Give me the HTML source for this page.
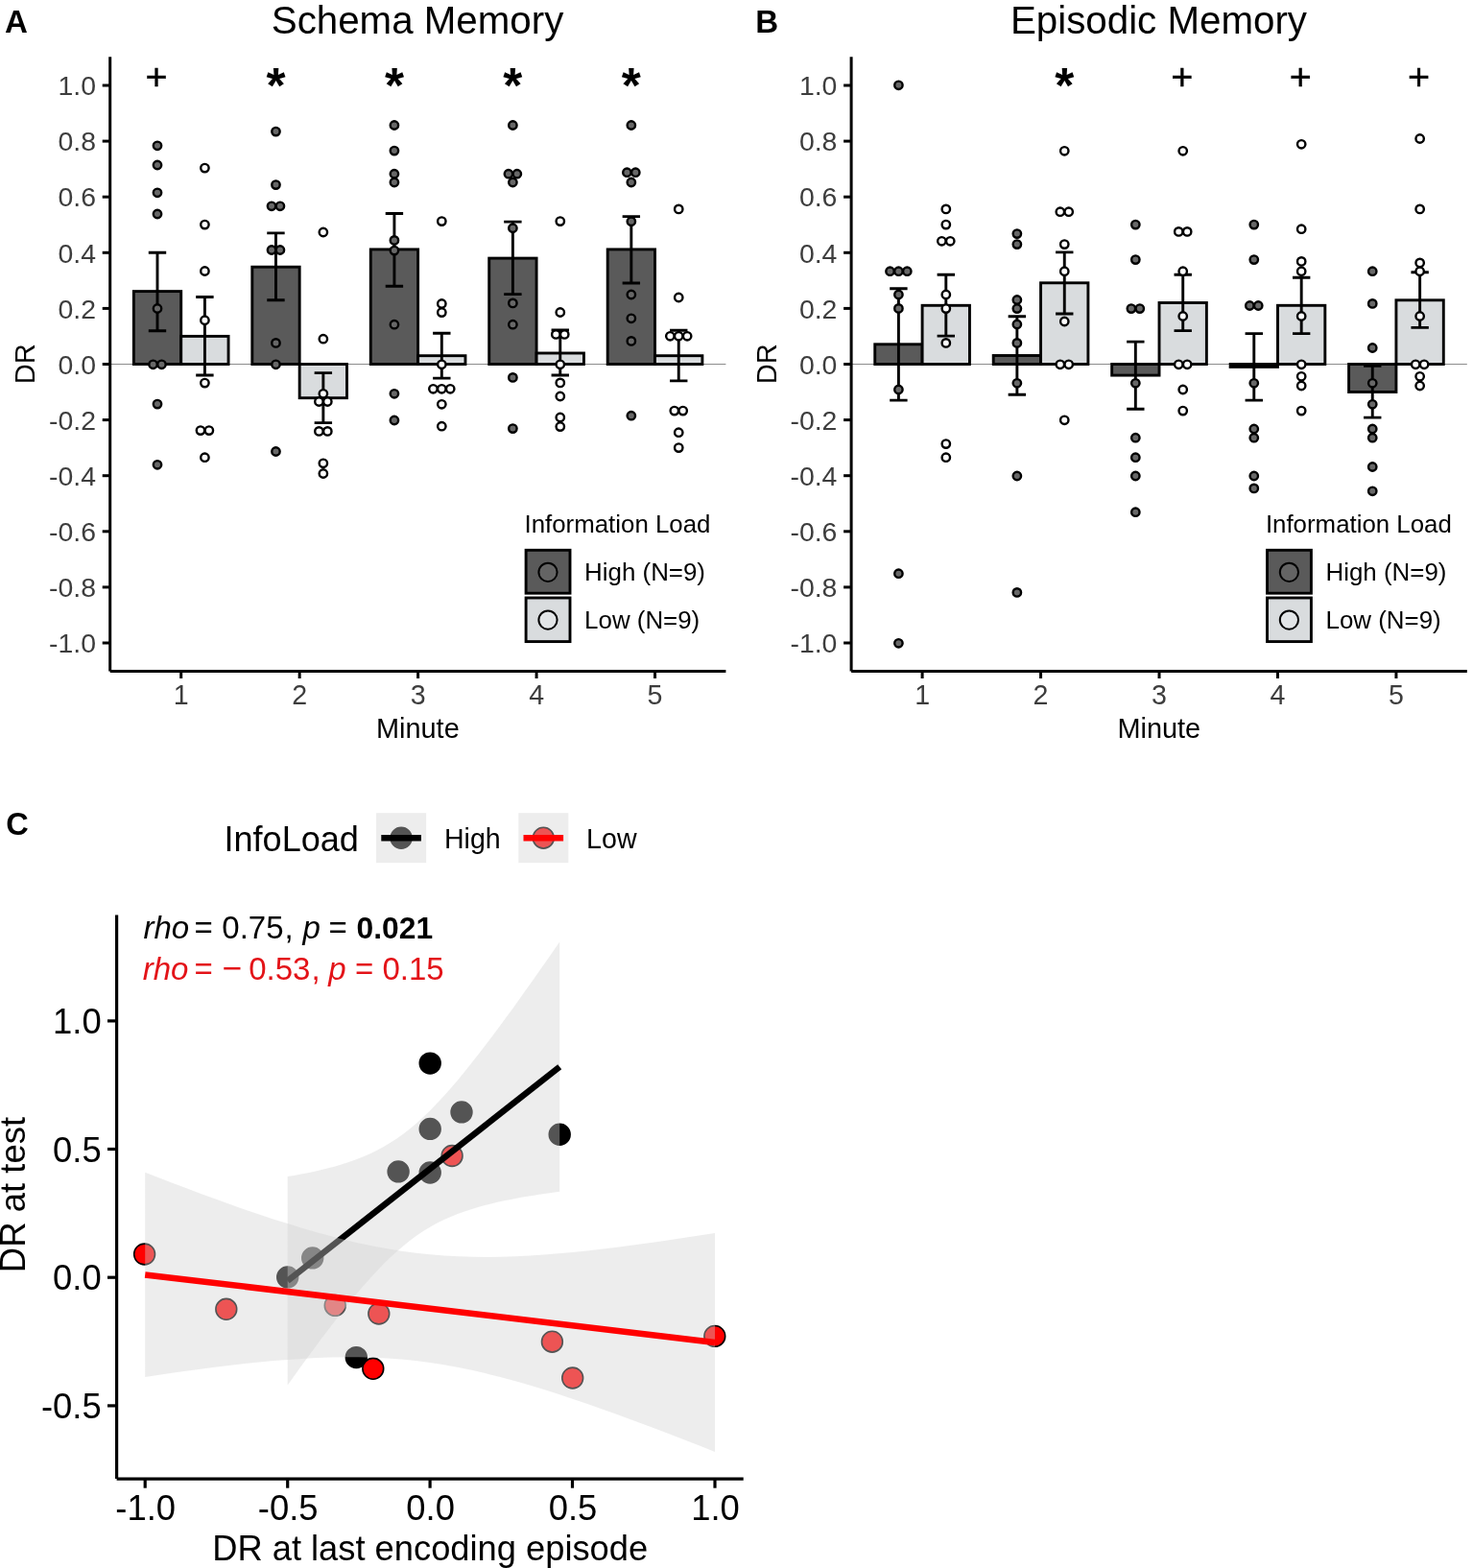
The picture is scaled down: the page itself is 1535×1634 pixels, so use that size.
<!DOCTYPE html>
<html lang="en"><head><meta charset="utf-8"><title>Schema Memory and Episodic Memory</title>
<style>html,body{margin:0;padding:0;background:#fff}body{width:1535px;height:1634px;overflow:hidden}svg{display:block}text{font-family:"Liberation Sans", sans-serif}</style>
</head><body>
<svg width="1535" height="1634" viewBox="0 0 1535 1634" role="img" aria-label="Figure with panels A, B and C">
<rect width="1535" height="1634" fill="#fff"/>
<g id="panelA">
<line x1="114.7" y1="379.5" x2="756.4" y2="379.5" stroke="#8c8c8c" stroke-width="1"/>
<rect x="139.35" y="303.60" width="49.35" height="75.90" fill="#5a5a5a" stroke="#000" stroke-width="2.9"/>
<rect x="188.70" y="350.40" width="49.35" height="29.10" fill="#d9dcde" stroke="#000" stroke-width="2.9"/>
<rect x="262.81" y="278.20" width="49.35" height="101.30" fill="#5a5a5a" stroke="#000" stroke-width="2.9"/>
<rect x="312.16" y="379.50" width="49.35" height="35.20" fill="#d9dcde" stroke="#000" stroke-width="2.9"/>
<rect x="386.27" y="259.90" width="49.35" height="119.60" fill="#5a5a5a" stroke="#000" stroke-width="2.9"/>
<rect x="435.62" y="370.70" width="49.35" height="8.80" fill="#d9dcde" stroke="#000" stroke-width="2.9"/>
<rect x="509.73" y="269.10" width="49.35" height="110.40" fill="#5a5a5a" stroke="#000" stroke-width="2.9"/>
<rect x="559.08" y="368.00" width="49.35" height="11.50" fill="#d9dcde" stroke="#000" stroke-width="2.9"/>
<rect x="633.19" y="259.90" width="49.35" height="119.60" fill="#5a5a5a" stroke="#000" stroke-width="2.9"/>
<rect x="682.54" y="370.70" width="49.35" height="8.80" fill="#d9dcde" stroke="#000" stroke-width="2.9"/>
<path d="M154.80 263.30H173.20M154.80 344.70H173.20M164.00 263.30V344.70" fill="none" stroke="#000" stroke-width="2.9"/>
<path d="M204.20 309.50H222.60M204.20 391.00H222.60M213.40 309.50V391.00" fill="none" stroke="#000" stroke-width="2.9"/>
<path d="M278.26 242.90H296.66M278.26 312.80H296.66M287.46 242.90V312.80" fill="none" stroke="#000" stroke-width="2.9"/>
<path d="M327.66 388.60H346.06M327.66 440.60H346.06M336.86 388.60V440.60" fill="none" stroke="#000" stroke-width="2.9"/>
<path d="M401.72 222.50H420.12M401.72 298.30H420.12M410.92 222.50V298.30" fill="none" stroke="#000" stroke-width="2.9"/>
<path d="M451.12 347.30H469.52M451.12 394.10H469.52M460.32 347.30V394.10" fill="none" stroke="#000" stroke-width="2.9"/>
<path d="M525.18 231.10H543.58M525.18 306.60H543.58M534.38 231.10V306.60" fill="none" stroke="#000" stroke-width="2.9"/>
<path d="M574.58 343.90H592.98M574.58 391.00H592.98M583.78 343.90V391.00" fill="none" stroke="#000" stroke-width="2.9"/>
<path d="M648.64 225.60H667.04M648.64 295.00H667.04M657.84 225.60V295.00" fill="none" stroke="#000" stroke-width="2.9"/>
<path d="M698.04 344.20H716.44M698.04 396.90H716.44M707.24 344.20V396.90" fill="none" stroke="#000" stroke-width="2.9"/>
<circle cx="164.00" cy="151.80" r="4.2" fill="#686868" stroke="#000" stroke-width="2.4"/>
<circle cx="164.00" cy="172.00" r="4.2" fill="#686868" stroke="#000" stroke-width="2.4"/>
<circle cx="164.00" cy="200.80" r="4.2" fill="#686868" stroke="#000" stroke-width="2.4"/>
<circle cx="164.00" cy="223.00" r="4.2" fill="#686868" stroke="#000" stroke-width="2.4"/>
<circle cx="164.00" cy="321.50" r="4.2" fill="#686868" stroke="#000" stroke-width="2.4"/>
<circle cx="159.55" cy="379.80" r="4.2" fill="#686868" stroke="#000" stroke-width="2.4"/>
<circle cx="168.45" cy="379.80" r="4.2" fill="#686868" stroke="#000" stroke-width="2.4"/>
<circle cx="164.00" cy="421.10" r="4.2" fill="#686868" stroke="#000" stroke-width="2.4"/>
<circle cx="164.00" cy="484.30" r="4.2" fill="#686868" stroke="#000" stroke-width="2.4"/>
<circle cx="213.40" cy="175.10" r="4.2" fill="#fff" stroke="#000" stroke-width="2.4"/>
<circle cx="213.40" cy="234.10" r="4.2" fill="#fff" stroke="#000" stroke-width="2.4"/>
<circle cx="213.40" cy="282.50" r="4.2" fill="#fff" stroke="#000" stroke-width="2.4"/>
<circle cx="213.40" cy="333.70" r="4.2" fill="#fff" stroke="#000" stroke-width="2.4"/>
<circle cx="213.40" cy="399.10" r="4.2" fill="#fff" stroke="#000" stroke-width="2.4"/>
<circle cx="208.95" cy="448.60" r="4.2" fill="#fff" stroke="#000" stroke-width="2.4"/>
<circle cx="217.85" cy="448.60" r="4.2" fill="#fff" stroke="#000" stroke-width="2.4"/>
<circle cx="213.40" cy="476.70" r="4.2" fill="#fff" stroke="#000" stroke-width="2.4"/>
<circle cx="287.46" cy="137.10" r="4.2" fill="#686868" stroke="#000" stroke-width="2.4"/>
<circle cx="287.46" cy="192.60" r="4.2" fill="#686868" stroke="#000" stroke-width="2.4"/>
<circle cx="283.01" cy="214.80" r="4.2" fill="#686868" stroke="#000" stroke-width="2.4"/>
<circle cx="291.91" cy="214.80" r="4.2" fill="#686868" stroke="#000" stroke-width="2.4"/>
<circle cx="283.01" cy="260.50" r="4.2" fill="#686868" stroke="#000" stroke-width="2.4"/>
<circle cx="291.91" cy="260.50" r="4.2" fill="#686868" stroke="#000" stroke-width="2.4"/>
<circle cx="287.46" cy="357.40" r="4.2" fill="#686868" stroke="#000" stroke-width="2.4"/>
<circle cx="287.46" cy="379.80" r="4.2" fill="#686868" stroke="#000" stroke-width="2.4"/>
<circle cx="287.46" cy="470.50" r="4.2" fill="#686868" stroke="#000" stroke-width="2.4"/>
<circle cx="336.86" cy="242.00" r="4.2" fill="#fff" stroke="#000" stroke-width="2.4"/>
<circle cx="336.86" cy="353.20" r="4.2" fill="#fff" stroke="#000" stroke-width="2.4"/>
<circle cx="336.86" cy="410.30" r="4.2" fill="#fff" stroke="#000" stroke-width="2.4"/>
<circle cx="332.41" cy="418.50" r="4.2" fill="#fff" stroke="#000" stroke-width="2.4"/>
<circle cx="341.31" cy="418.50" r="4.2" fill="#fff" stroke="#000" stroke-width="2.4"/>
<circle cx="332.41" cy="449.40" r="4.2" fill="#fff" stroke="#000" stroke-width="2.4"/>
<circle cx="341.31" cy="449.40" r="4.2" fill="#fff" stroke="#000" stroke-width="2.4"/>
<circle cx="336.86" cy="482.80" r="4.2" fill="#fff" stroke="#000" stroke-width="2.4"/>
<circle cx="336.86" cy="493.50" r="4.2" fill="#fff" stroke="#000" stroke-width="2.4"/>
<circle cx="410.92" cy="130.50" r="4.2" fill="#686868" stroke="#000" stroke-width="2.4"/>
<circle cx="410.92" cy="157.10" r="4.2" fill="#686868" stroke="#000" stroke-width="2.4"/>
<circle cx="410.92" cy="181.20" r="4.2" fill="#686868" stroke="#000" stroke-width="2.4"/>
<circle cx="410.92" cy="190.00" r="4.2" fill="#686868" stroke="#000" stroke-width="2.4"/>
<circle cx="410.92" cy="250.40" r="4.2" fill="#686868" stroke="#000" stroke-width="2.4"/>
<circle cx="410.92" cy="261.10" r="4.2" fill="#686868" stroke="#000" stroke-width="2.4"/>
<circle cx="410.92" cy="338.20" r="4.2" fill="#686868" stroke="#000" stroke-width="2.4"/>
<circle cx="410.92" cy="410.30" r="4.2" fill="#686868" stroke="#000" stroke-width="2.4"/>
<circle cx="410.92" cy="438.00" r="4.2" fill="#686868" stroke="#000" stroke-width="2.4"/>
<circle cx="460.32" cy="230.60" r="4.2" fill="#fff" stroke="#000" stroke-width="2.4"/>
<circle cx="460.32" cy="316.50" r="4.2" fill="#fff" stroke="#000" stroke-width="2.4"/>
<circle cx="460.32" cy="325.60" r="4.2" fill="#fff" stroke="#000" stroke-width="2.4"/>
<circle cx="460.32" cy="379.80" r="4.2" fill="#fff" stroke="#000" stroke-width="2.4"/>
<circle cx="451.42" cy="405.30" r="4.2" fill="#fff" stroke="#000" stroke-width="2.4"/>
<circle cx="460.32" cy="405.30" r="4.2" fill="#fff" stroke="#000" stroke-width="2.4"/>
<circle cx="469.22" cy="405.30" r="4.2" fill="#fff" stroke="#000" stroke-width="2.4"/>
<circle cx="460.32" cy="421.30" r="4.2" fill="#fff" stroke="#000" stroke-width="2.4"/>
<circle cx="460.32" cy="444.20" r="4.2" fill="#fff" stroke="#000" stroke-width="2.4"/>
<circle cx="534.38" cy="130.50" r="4.2" fill="#686868" stroke="#000" stroke-width="2.4"/>
<circle cx="529.93" cy="181.20" r="4.2" fill="#686868" stroke="#000" stroke-width="2.4"/>
<circle cx="538.83" cy="181.20" r="4.2" fill="#686868" stroke="#000" stroke-width="2.4"/>
<circle cx="534.38" cy="190.00" r="4.2" fill="#686868" stroke="#000" stroke-width="2.4"/>
<circle cx="534.38" cy="237.70" r="4.2" fill="#686868" stroke="#000" stroke-width="2.4"/>
<circle cx="534.38" cy="315.90" r="4.2" fill="#686868" stroke="#000" stroke-width="2.4"/>
<circle cx="534.38" cy="338.20" r="4.2" fill="#686868" stroke="#000" stroke-width="2.4"/>
<circle cx="534.38" cy="393.40" r="4.2" fill="#686868" stroke="#000" stroke-width="2.4"/>
<circle cx="534.38" cy="446.60" r="4.2" fill="#686868" stroke="#000" stroke-width="2.4"/>
<circle cx="583.78" cy="230.60" r="4.2" fill="#fff" stroke="#000" stroke-width="2.4"/>
<circle cx="583.78" cy="325.50" r="4.2" fill="#fff" stroke="#000" stroke-width="2.4"/>
<circle cx="579.33" cy="348.40" r="4.2" fill="#fff" stroke="#000" stroke-width="2.4"/>
<circle cx="588.23" cy="348.40" r="4.2" fill="#fff" stroke="#000" stroke-width="2.4"/>
<circle cx="583.78" cy="379.80" r="4.2" fill="#fff" stroke="#000" stroke-width="2.4"/>
<circle cx="583.78" cy="398.90" r="4.2" fill="#fff" stroke="#000" stroke-width="2.4"/>
<circle cx="583.78" cy="413.00" r="4.2" fill="#fff" stroke="#000" stroke-width="2.4"/>
<circle cx="583.78" cy="435.00" r="4.2" fill="#fff" stroke="#000" stroke-width="2.4"/>
<circle cx="583.78" cy="444.60" r="4.2" fill="#fff" stroke="#000" stroke-width="2.4"/>
<circle cx="657.84" cy="130.50" r="4.2" fill="#686868" stroke="#000" stroke-width="2.4"/>
<circle cx="653.39" cy="179.70" r="4.2" fill="#686868" stroke="#000" stroke-width="2.4"/>
<circle cx="662.29" cy="179.70" r="4.2" fill="#686868" stroke="#000" stroke-width="2.4"/>
<circle cx="657.84" cy="190.00" r="4.2" fill="#686868" stroke="#000" stroke-width="2.4"/>
<circle cx="657.84" cy="230.80" r="4.2" fill="#686868" stroke="#000" stroke-width="2.4"/>
<circle cx="657.84" cy="307.00" r="4.2" fill="#686868" stroke="#000" stroke-width="2.4"/>
<circle cx="657.84" cy="331.80" r="4.2" fill="#686868" stroke="#000" stroke-width="2.4"/>
<circle cx="657.84" cy="355.40" r="4.2" fill="#686868" stroke="#000" stroke-width="2.4"/>
<circle cx="657.84" cy="433.20" r="4.2" fill="#686868" stroke="#000" stroke-width="2.4"/>
<circle cx="707.24" cy="217.90" r="4.2" fill="#fff" stroke="#000" stroke-width="2.4"/>
<circle cx="707.24" cy="310.00" r="4.2" fill="#fff" stroke="#000" stroke-width="2.4"/>
<circle cx="698.34" cy="350.30" r="4.2" fill="#fff" stroke="#000" stroke-width="2.4"/>
<circle cx="707.24" cy="350.30" r="4.2" fill="#fff" stroke="#000" stroke-width="2.4"/>
<circle cx="716.14" cy="350.30" r="4.2" fill="#fff" stroke="#000" stroke-width="2.4"/>
<circle cx="702.79" cy="428.10" r="4.2" fill="#fff" stroke="#000" stroke-width="2.4"/>
<circle cx="711.69" cy="428.10" r="4.2" fill="#fff" stroke="#000" stroke-width="2.4"/>
<circle cx="707.24" cy="450.70" r="4.2" fill="#fff" stroke="#000" stroke-width="2.4"/>
<circle cx="707.24" cy="466.60" r="4.2" fill="#fff" stroke="#000" stroke-width="2.4"/>
<line x1="114.70" y1="59.2" x2="114.70" y2="699.4" stroke="#000" stroke-width="3.0"/>
<line x1="114.70" y1="699.4" x2="756.40" y2="699.4" stroke="#000" stroke-width="3.0"/>
<line x1="106.70" y1="89.00" x2="114.70" y2="89.00" stroke="#000" stroke-width="3.0"/>
<text x="100.00" y="99.20" text-anchor="end" font-size="28.4" fill="#3d3d3d">1.0</text>
<line x1="106.70" y1="147.10" x2="114.70" y2="147.10" stroke="#000" stroke-width="3.0"/>
<text x="100.00" y="157.30" text-anchor="end" font-size="28.4" fill="#3d3d3d">0.8</text>
<line x1="106.70" y1="205.20" x2="114.70" y2="205.20" stroke="#000" stroke-width="3.0"/>
<text x="100.00" y="215.40" text-anchor="end" font-size="28.4" fill="#3d3d3d">0.6</text>
<line x1="106.70" y1="263.30" x2="114.70" y2="263.30" stroke="#000" stroke-width="3.0"/>
<text x="100.00" y="273.50" text-anchor="end" font-size="28.4" fill="#3d3d3d">0.4</text>
<line x1="106.70" y1="321.40" x2="114.70" y2="321.40" stroke="#000" stroke-width="3.0"/>
<text x="100.00" y="331.60" text-anchor="end" font-size="28.4" fill="#3d3d3d">0.2</text>
<line x1="106.70" y1="379.50" x2="114.70" y2="379.50" stroke="#000" stroke-width="3.0"/>
<text x="100.00" y="389.70" text-anchor="end" font-size="28.4" fill="#3d3d3d">0.0</text>
<line x1="106.70" y1="437.60" x2="114.70" y2="437.60" stroke="#000" stroke-width="3.0"/>
<text x="100.00" y="447.80" text-anchor="end" font-size="28.4" fill="#3d3d3d">-0.2</text>
<line x1="106.70" y1="495.70" x2="114.70" y2="495.70" stroke="#000" stroke-width="3.0"/>
<text x="100.00" y="505.90" text-anchor="end" font-size="28.4" fill="#3d3d3d">-0.4</text>
<line x1="106.70" y1="553.80" x2="114.70" y2="553.80" stroke="#000" stroke-width="3.0"/>
<text x="100.00" y="564.00" text-anchor="end" font-size="28.4" fill="#3d3d3d">-0.6</text>
<line x1="106.70" y1="611.90" x2="114.70" y2="611.90" stroke="#000" stroke-width="3.0"/>
<text x="100.00" y="622.10" text-anchor="end" font-size="28.4" fill="#3d3d3d">-0.8</text>
<line x1="106.70" y1="670.00" x2="114.70" y2="670.00" stroke="#000" stroke-width="3.0"/>
<text x="100.00" y="680.20" text-anchor="end" font-size="28.4" fill="#3d3d3d">-1.0</text>
<line x1="188.70" y1="699.4" x2="188.70" y2="707.00" stroke="#000" stroke-width="3.0"/>
<text x="188.70" y="734.3" text-anchor="middle" font-size="28.6" fill="#3d3d3d">1</text>
<line x1="312.16" y1="699.4" x2="312.16" y2="707.00" stroke="#000" stroke-width="3.0"/>
<text x="312.16" y="734.3" text-anchor="middle" font-size="28.6" fill="#3d3d3d">2</text>
<line x1="435.62" y1="699.4" x2="435.62" y2="707.00" stroke="#000" stroke-width="3.0"/>
<text x="435.62" y="734.3" text-anchor="middle" font-size="28.6" fill="#3d3d3d">3</text>
<line x1="559.08" y1="699.4" x2="559.08" y2="707.00" stroke="#000" stroke-width="3.0"/>
<text x="559.08" y="734.3" text-anchor="middle" font-size="28.6" fill="#3d3d3d">4</text>
<line x1="682.54" y1="699.4" x2="682.54" y2="707.00" stroke="#000" stroke-width="3.0"/>
<text x="682.54" y="734.3" text-anchor="middle" font-size="28.6" fill="#3d3d3d">5</text>
<text x="435.35" y="769.2" text-anchor="middle" font-size="28.9" fill="#000">Minute</text>
<text transform="translate(36.10 379.3) rotate(-90)" text-anchor="middle" font-size="29.1" fill="#000">DR</text>
<text x="435.05" y="35.3" text-anchor="middle" font-size="40.3" fill="#000">Schema Memory</text>
<text x="4.90" y="34.1" font-size="33.1" font-weight="bold" fill="#000">A</text>
<text x="163.00" y="93.3" text-anchor="middle" font-size="39.5" fill="#000" stroke="#000" stroke-width="0.4">+</text>
<text x="287.46" y="107.0" text-anchor="middle" font-size="51.5" font-weight="bold" fill="#000">*</text>
<text x="410.92" y="107.0" text-anchor="middle" font-size="51.5" font-weight="bold" fill="#000">*</text>
<text x="534.38" y="107.0" text-anchor="middle" font-size="51.5" font-weight="bold" fill="#000">*</text>
<text x="657.84" y="107.0" text-anchor="middle" font-size="51.5" font-weight="bold" fill="#000">*</text>
<text x="546.50" y="555.2" font-size="25.85" fill="#000">Information Load</text>
<rect x="548.10" y="573.3" width="45.9" height="44.9" fill="#5a5a5a" stroke="#000" stroke-width="2.9"/>
<rect x="548.10" y="623.0" width="45.9" height="45.6" fill="#d9dcde" stroke="#000" stroke-width="2.9"/>
<circle cx="571.00" cy="596.3" r="9.6" fill="#646464" stroke="#000" stroke-width="2.0"/>
<circle cx="571.00" cy="646.1" r="9.6" fill="#e2e5e7" stroke="#000" stroke-width="2.0"/>
<text x="609.10" y="604.8" font-size="25.9" fill="#000">High (N=9)</text>
<text x="609.10" y="654.9" font-size="25.9" fill="#000">Low (N=9)</text>
</g>
<g id="panelB">
<line x1="887.1" y1="379.5" x2="1528.8" y2="379.5" stroke="#8c8c8c" stroke-width="1"/>
<rect x="911.75" y="358.80" width="49.35" height="20.70" fill="#5a5a5a" stroke="#000" stroke-width="2.9"/>
<rect x="961.10" y="318.30" width="49.35" height="61.20" fill="#d9dcde" stroke="#000" stroke-width="2.9"/>
<rect x="1035.21" y="370.50" width="49.35" height="9.00" fill="#5a5a5a" stroke="#000" stroke-width="2.9"/>
<rect x="1084.56" y="294.80" width="49.35" height="84.70" fill="#d9dcde" stroke="#000" stroke-width="2.9"/>
<rect x="1158.67" y="379.50" width="49.35" height="11.60" fill="#5a5a5a" stroke="#000" stroke-width="2.9"/>
<rect x="1208.02" y="315.50" width="49.35" height="64.00" fill="#d9dcde" stroke="#000" stroke-width="2.9"/>
<rect x="1282.13" y="379.50" width="49.35" height="2.90" fill="#5a5a5a" stroke="#000" stroke-width="2.9"/>
<rect x="1331.48" y="318.30" width="49.35" height="61.20" fill="#d9dcde" stroke="#000" stroke-width="2.9"/>
<rect x="1405.59" y="379.50" width="49.35" height="29.00" fill="#5a5a5a" stroke="#000" stroke-width="2.9"/>
<rect x="1454.94" y="312.80" width="49.35" height="66.70" fill="#d9dcde" stroke="#000" stroke-width="2.9"/>
<path d="M927.20 300.70H945.60M927.20 417.10H945.60M936.40 300.70V417.10" fill="none" stroke="#000" stroke-width="2.9"/>
<path d="M976.60 286.20H995.00M976.60 350.10H995.00M985.80 286.20V350.10" fill="none" stroke="#000" stroke-width="2.9"/>
<path d="M1050.66 329.80H1069.06M1050.66 411.20H1069.06M1059.86 329.80V411.20" fill="none" stroke="#000" stroke-width="2.9"/>
<path d="M1100.06 262.90H1118.46M1100.06 327.00H1118.46M1109.26 262.90V327.00" fill="none" stroke="#000" stroke-width="2.9"/>
<path d="M1174.12 356.10H1192.52M1174.12 426.20H1192.52M1183.32 356.10V426.20" fill="none" stroke="#000" stroke-width="2.9"/>
<path d="M1223.52 286.20H1241.92M1223.52 344.60H1241.92M1232.72 286.20V344.60" fill="none" stroke="#000" stroke-width="2.9"/>
<path d="M1297.58 347.60H1315.98M1297.58 417.10H1315.98M1306.78 347.60V417.10" fill="none" stroke="#000" stroke-width="2.9"/>
<path d="M1346.98 289.20H1365.38M1346.98 347.60H1365.38M1356.18 289.20V347.60" fill="none" stroke="#000" stroke-width="2.9"/>
<path d="M1421.04 381.30H1439.44M1421.04 435.10H1439.44M1430.24 381.30V435.10" fill="none" stroke="#000" stroke-width="2.9"/>
<path d="M1470.44 283.70H1488.84M1470.44 341.40H1488.84M1479.64 283.70V341.40" fill="none" stroke="#000" stroke-width="2.9"/>
<circle cx="936.40" cy="88.80" r="4.2" fill="#686868" stroke="#000" stroke-width="2.4"/>
<circle cx="927.50" cy="282.70" r="4.2" fill="#686868" stroke="#000" stroke-width="2.4"/>
<circle cx="936.40" cy="282.70" r="4.2" fill="#686868" stroke="#000" stroke-width="2.4"/>
<circle cx="945.30" cy="282.70" r="4.2" fill="#686868" stroke="#000" stroke-width="2.4"/>
<circle cx="936.40" cy="307.00" r="4.2" fill="#686868" stroke="#000" stroke-width="2.4"/>
<circle cx="936.40" cy="321.40" r="4.2" fill="#686868" stroke="#000" stroke-width="2.4"/>
<circle cx="936.40" cy="406.00" r="4.2" fill="#686868" stroke="#000" stroke-width="2.4"/>
<circle cx="936.40" cy="597.70" r="4.2" fill="#686868" stroke="#000" stroke-width="2.4"/>
<circle cx="936.40" cy="670.30" r="4.2" fill="#686868" stroke="#000" stroke-width="2.4"/>
<circle cx="985.80" cy="217.90" r="4.2" fill="#fff" stroke="#000" stroke-width="2.4"/>
<circle cx="985.80" cy="234.10" r="4.2" fill="#fff" stroke="#000" stroke-width="2.4"/>
<circle cx="981.35" cy="251.30" r="4.2" fill="#fff" stroke="#000" stroke-width="2.4"/>
<circle cx="990.25" cy="251.30" r="4.2" fill="#fff" stroke="#000" stroke-width="2.4"/>
<circle cx="985.80" cy="307.00" r="4.2" fill="#fff" stroke="#000" stroke-width="2.4"/>
<circle cx="985.80" cy="321.60" r="4.2" fill="#fff" stroke="#000" stroke-width="2.4"/>
<circle cx="985.80" cy="357.40" r="4.2" fill="#fff" stroke="#000" stroke-width="2.4"/>
<circle cx="985.80" cy="462.60" r="4.2" fill="#fff" stroke="#000" stroke-width="2.4"/>
<circle cx="985.80" cy="476.70" r="4.2" fill="#fff" stroke="#000" stroke-width="2.4"/>
<circle cx="1059.86" cy="243.60" r="4.2" fill="#686868" stroke="#000" stroke-width="2.4"/>
<circle cx="1059.86" cy="254.60" r="4.2" fill="#686868" stroke="#000" stroke-width="2.4"/>
<circle cx="1059.86" cy="312.50" r="4.2" fill="#686868" stroke="#000" stroke-width="2.4"/>
<circle cx="1059.86" cy="321.60" r="4.2" fill="#686868" stroke="#000" stroke-width="2.4"/>
<circle cx="1059.86" cy="338.00" r="4.2" fill="#686868" stroke="#000" stroke-width="2.4"/>
<circle cx="1059.86" cy="357.40" r="4.2" fill="#686868" stroke="#000" stroke-width="2.4"/>
<circle cx="1059.86" cy="399.30" r="4.2" fill="#686868" stroke="#000" stroke-width="2.4"/>
<circle cx="1059.86" cy="496.00" r="4.2" fill="#686868" stroke="#000" stroke-width="2.4"/>
<circle cx="1059.86" cy="617.40" r="4.2" fill="#686868" stroke="#000" stroke-width="2.4"/>
<circle cx="1109.26" cy="157.30" r="4.2" fill="#fff" stroke="#000" stroke-width="2.4"/>
<circle cx="1104.81" cy="220.70" r="4.2" fill="#fff" stroke="#000" stroke-width="2.4"/>
<circle cx="1113.71" cy="220.70" r="4.2" fill="#fff" stroke="#000" stroke-width="2.4"/>
<circle cx="1109.26" cy="254.60" r="4.2" fill="#fff" stroke="#000" stroke-width="2.4"/>
<circle cx="1109.26" cy="282.70" r="4.2" fill="#fff" stroke="#000" stroke-width="2.4"/>
<circle cx="1109.26" cy="335.00" r="4.2" fill="#fff" stroke="#000" stroke-width="2.4"/>
<circle cx="1104.81" cy="379.80" r="4.2" fill="#fff" stroke="#000" stroke-width="2.4"/>
<circle cx="1113.71" cy="379.80" r="4.2" fill="#fff" stroke="#000" stroke-width="2.4"/>
<circle cx="1109.26" cy="437.80" r="4.2" fill="#fff" stroke="#000" stroke-width="2.4"/>
<circle cx="1183.32" cy="234.10" r="4.2" fill="#686868" stroke="#000" stroke-width="2.4"/>
<circle cx="1183.32" cy="270.60" r="4.2" fill="#686868" stroke="#000" stroke-width="2.4"/>
<circle cx="1178.87" cy="321.60" r="4.2" fill="#686868" stroke="#000" stroke-width="2.4"/>
<circle cx="1187.77" cy="321.60" r="4.2" fill="#686868" stroke="#000" stroke-width="2.4"/>
<circle cx="1183.32" cy="399.30" r="4.2" fill="#686868" stroke="#000" stroke-width="2.4"/>
<circle cx="1183.32" cy="456.20" r="4.2" fill="#686868" stroke="#000" stroke-width="2.4"/>
<circle cx="1183.32" cy="476.70" r="4.2" fill="#686868" stroke="#000" stroke-width="2.4"/>
<circle cx="1183.32" cy="496.00" r="4.2" fill="#686868" stroke="#000" stroke-width="2.4"/>
<circle cx="1183.32" cy="533.70" r="4.2" fill="#686868" stroke="#000" stroke-width="2.4"/>
<circle cx="1232.72" cy="157.30" r="4.2" fill="#fff" stroke="#000" stroke-width="2.4"/>
<circle cx="1228.27" cy="241.40" r="4.2" fill="#fff" stroke="#000" stroke-width="2.4"/>
<circle cx="1237.17" cy="241.40" r="4.2" fill="#fff" stroke="#000" stroke-width="2.4"/>
<circle cx="1232.72" cy="282.70" r="4.2" fill="#fff" stroke="#000" stroke-width="2.4"/>
<circle cx="1232.72" cy="329.50" r="4.2" fill="#fff" stroke="#000" stroke-width="2.4"/>
<circle cx="1228.27" cy="379.80" r="4.2" fill="#fff" stroke="#000" stroke-width="2.4"/>
<circle cx="1237.17" cy="379.80" r="4.2" fill="#fff" stroke="#000" stroke-width="2.4"/>
<circle cx="1232.72" cy="406.00" r="4.2" fill="#fff" stroke="#000" stroke-width="2.4"/>
<circle cx="1232.72" cy="428.10" r="4.2" fill="#fff" stroke="#000" stroke-width="2.4"/>
<circle cx="1306.78" cy="234.10" r="4.2" fill="#686868" stroke="#000" stroke-width="2.4"/>
<circle cx="1306.78" cy="270.60" r="4.2" fill="#686868" stroke="#000" stroke-width="2.4"/>
<circle cx="1302.33" cy="318.50" r="4.2" fill="#686868" stroke="#000" stroke-width="2.4"/>
<circle cx="1311.23" cy="318.50" r="4.2" fill="#686868" stroke="#000" stroke-width="2.4"/>
<circle cx="1306.78" cy="399.30" r="4.2" fill="#686868" stroke="#000" stroke-width="2.4"/>
<circle cx="1306.78" cy="447.00" r="4.2" fill="#686868" stroke="#000" stroke-width="2.4"/>
<circle cx="1306.78" cy="456.20" r="4.2" fill="#686868" stroke="#000" stroke-width="2.4"/>
<circle cx="1306.78" cy="496.00" r="4.2" fill="#686868" stroke="#000" stroke-width="2.4"/>
<circle cx="1306.78" cy="508.90" r="4.2" fill="#686868" stroke="#000" stroke-width="2.4"/>
<circle cx="1356.18" cy="150.30" r="4.2" fill="#fff" stroke="#000" stroke-width="2.4"/>
<circle cx="1356.18" cy="238.70" r="4.2" fill="#fff" stroke="#000" stroke-width="2.4"/>
<circle cx="1356.18" cy="272.40" r="4.2" fill="#fff" stroke="#000" stroke-width="2.4"/>
<circle cx="1356.18" cy="282.70" r="4.2" fill="#fff" stroke="#000" stroke-width="2.4"/>
<circle cx="1356.18" cy="329.50" r="4.2" fill="#fff" stroke="#000" stroke-width="2.4"/>
<circle cx="1356.18" cy="379.80" r="4.2" fill="#fff" stroke="#000" stroke-width="2.4"/>
<circle cx="1356.18" cy="392.30" r="4.2" fill="#fff" stroke="#000" stroke-width="2.4"/>
<circle cx="1356.18" cy="402.00" r="4.2" fill="#fff" stroke="#000" stroke-width="2.4"/>
<circle cx="1356.18" cy="428.10" r="4.2" fill="#fff" stroke="#000" stroke-width="2.4"/>
<circle cx="1430.24" cy="282.70" r="4.2" fill="#686868" stroke="#000" stroke-width="2.4"/>
<circle cx="1430.24" cy="316.40" r="4.2" fill="#686868" stroke="#000" stroke-width="2.4"/>
<circle cx="1430.24" cy="362.50" r="4.2" fill="#686868" stroke="#000" stroke-width="2.4"/>
<circle cx="1430.24" cy="399.30" r="4.2" fill="#686868" stroke="#000" stroke-width="2.4"/>
<circle cx="1430.24" cy="421.30" r="4.2" fill="#686868" stroke="#000" stroke-width="2.4"/>
<circle cx="1430.24" cy="447.00" r="4.2" fill="#686868" stroke="#000" stroke-width="2.4"/>
<circle cx="1430.24" cy="456.20" r="4.2" fill="#686868" stroke="#000" stroke-width="2.4"/>
<circle cx="1430.24" cy="486.50" r="4.2" fill="#686868" stroke="#000" stroke-width="2.4"/>
<circle cx="1430.24" cy="511.80" r="4.2" fill="#686868" stroke="#000" stroke-width="2.4"/>
<circle cx="1479.64" cy="144.50" r="4.2" fill="#fff" stroke="#000" stroke-width="2.4"/>
<circle cx="1479.64" cy="217.90" r="4.2" fill="#fff" stroke="#000" stroke-width="2.4"/>
<circle cx="1479.64" cy="273.90" r="4.2" fill="#fff" stroke="#000" stroke-width="2.4"/>
<circle cx="1479.64" cy="282.70" r="4.2" fill="#fff" stroke="#000" stroke-width="2.4"/>
<circle cx="1479.64" cy="329.50" r="4.2" fill="#fff" stroke="#000" stroke-width="2.4"/>
<circle cx="1475.19" cy="379.80" r="4.2" fill="#fff" stroke="#000" stroke-width="2.4"/>
<circle cx="1484.09" cy="379.80" r="4.2" fill="#fff" stroke="#000" stroke-width="2.4"/>
<circle cx="1479.64" cy="392.30" r="4.2" fill="#fff" stroke="#000" stroke-width="2.4"/>
<circle cx="1479.64" cy="402.00" r="4.2" fill="#fff" stroke="#000" stroke-width="2.4"/>
<line x1="887.10" y1="59.2" x2="887.10" y2="699.4" stroke="#000" stroke-width="3.0"/>
<line x1="887.10" y1="699.4" x2="1528.80" y2="699.4" stroke="#000" stroke-width="3.0"/>
<line x1="879.10" y1="89.00" x2="887.10" y2="89.00" stroke="#000" stroke-width="3.0"/>
<text x="872.40" y="99.20" text-anchor="end" font-size="28.4" fill="#3d3d3d">1.0</text>
<line x1="879.10" y1="147.10" x2="887.10" y2="147.10" stroke="#000" stroke-width="3.0"/>
<text x="872.40" y="157.30" text-anchor="end" font-size="28.4" fill="#3d3d3d">0.8</text>
<line x1="879.10" y1="205.20" x2="887.10" y2="205.20" stroke="#000" stroke-width="3.0"/>
<text x="872.40" y="215.40" text-anchor="end" font-size="28.4" fill="#3d3d3d">0.6</text>
<line x1="879.10" y1="263.30" x2="887.10" y2="263.30" stroke="#000" stroke-width="3.0"/>
<text x="872.40" y="273.50" text-anchor="end" font-size="28.4" fill="#3d3d3d">0.4</text>
<line x1="879.10" y1="321.40" x2="887.10" y2="321.40" stroke="#000" stroke-width="3.0"/>
<text x="872.40" y="331.60" text-anchor="end" font-size="28.4" fill="#3d3d3d">0.2</text>
<line x1="879.10" y1="379.50" x2="887.10" y2="379.50" stroke="#000" stroke-width="3.0"/>
<text x="872.40" y="389.70" text-anchor="end" font-size="28.4" fill="#3d3d3d">0.0</text>
<line x1="879.10" y1="437.60" x2="887.10" y2="437.60" stroke="#000" stroke-width="3.0"/>
<text x="872.40" y="447.80" text-anchor="end" font-size="28.4" fill="#3d3d3d">-0.2</text>
<line x1="879.10" y1="495.70" x2="887.10" y2="495.70" stroke="#000" stroke-width="3.0"/>
<text x="872.40" y="505.90" text-anchor="end" font-size="28.4" fill="#3d3d3d">-0.4</text>
<line x1="879.10" y1="553.80" x2="887.10" y2="553.80" stroke="#000" stroke-width="3.0"/>
<text x="872.40" y="564.00" text-anchor="end" font-size="28.4" fill="#3d3d3d">-0.6</text>
<line x1="879.10" y1="611.90" x2="887.10" y2="611.90" stroke="#000" stroke-width="3.0"/>
<text x="872.40" y="622.10" text-anchor="end" font-size="28.4" fill="#3d3d3d">-0.8</text>
<line x1="879.10" y1="670.00" x2="887.10" y2="670.00" stroke="#000" stroke-width="3.0"/>
<text x="872.40" y="680.20" text-anchor="end" font-size="28.4" fill="#3d3d3d">-1.0</text>
<line x1="961.10" y1="699.4" x2="961.10" y2="707.00" stroke="#000" stroke-width="3.0"/>
<text x="961.10" y="734.3" text-anchor="middle" font-size="28.6" fill="#3d3d3d">1</text>
<line x1="1084.56" y1="699.4" x2="1084.56" y2="707.00" stroke="#000" stroke-width="3.0"/>
<text x="1084.56" y="734.3" text-anchor="middle" font-size="28.6" fill="#3d3d3d">2</text>
<line x1="1208.02" y1="699.4" x2="1208.02" y2="707.00" stroke="#000" stroke-width="3.0"/>
<text x="1208.02" y="734.3" text-anchor="middle" font-size="28.6" fill="#3d3d3d">3</text>
<line x1="1331.48" y1="699.4" x2="1331.48" y2="707.00" stroke="#000" stroke-width="3.0"/>
<text x="1331.48" y="734.3" text-anchor="middle" font-size="28.6" fill="#3d3d3d">4</text>
<line x1="1454.94" y1="699.4" x2="1454.94" y2="707.00" stroke="#000" stroke-width="3.0"/>
<text x="1454.94" y="734.3" text-anchor="middle" font-size="28.6" fill="#3d3d3d">5</text>
<text x="1207.75" y="769.2" text-anchor="middle" font-size="28.9" fill="#000">Minute</text>
<text transform="translate(808.50 379.3) rotate(-90)" text-anchor="middle" font-size="29.1" fill="#000">DR</text>
<text x="1207.45" y="35.3" text-anchor="middle" font-size="40.3" fill="#000">Episodic Memory</text>
<text x="787.30" y="34.1" font-size="33.1" font-weight="bold" fill="#000">B</text>
<text x="1109.26" y="107.0" text-anchor="middle" font-size="51.5" font-weight="bold" fill="#000">*</text>
<text x="1231.72" y="93.3" text-anchor="middle" font-size="39.5" fill="#000" stroke="#000" stroke-width="0.4">+</text>
<text x="1355.18" y="93.3" text-anchor="middle" font-size="39.5" fill="#000" stroke="#000" stroke-width="0.4">+</text>
<text x="1478.64" y="93.3" text-anchor="middle" font-size="39.5" fill="#000" stroke="#000" stroke-width="0.4">+</text>
<text x="1318.90" y="555.2" font-size="25.85" fill="#000">Information Load</text>
<rect x="1320.50" y="573.3" width="45.9" height="44.9" fill="#5a5a5a" stroke="#000" stroke-width="2.9"/>
<rect x="1320.50" y="623.0" width="45.9" height="45.6" fill="#d9dcde" stroke="#000" stroke-width="2.9"/>
<circle cx="1343.40" cy="596.3" r="9.6" fill="#646464" stroke="#000" stroke-width="2.0"/>
<circle cx="1343.40" cy="646.1" r="9.6" fill="#e2e5e7" stroke="#000" stroke-width="2.0"/>
<text x="1381.50" y="604.8" font-size="25.9" fill="#000">High (N=9)</text>
<text x="1381.50" y="654.9" font-size="25.9" fill="#000">Low (N=9)</text>
</g>
<g id="panelC">
<circle cx="448.2" cy="1108.1" r="10.9" fill="#000" stroke="#000" stroke-width="1.6"/>
<circle cx="481.0" cy="1158.9" r="10.9" fill="#000" stroke="#000" stroke-width="1.6"/>
<circle cx="448.2" cy="1176.4" r="10.9" fill="#000" stroke="#000" stroke-width="1.6"/>
<circle cx="415.1" cy="1220.9" r="10.9" fill="#000" stroke="#000" stroke-width="1.6"/>
<circle cx="448.2" cy="1222.0" r="10.9" fill="#000" stroke="#000" stroke-width="1.6"/>
<circle cx="583.2" cy="1182.3" r="10.9" fill="#000" stroke="#000" stroke-width="1.6"/>
<circle cx="325.7" cy="1310.9" r="10.9" fill="#000" stroke="#000" stroke-width="1.6"/>
<circle cx="299.7" cy="1330.9" r="10.9" fill="#000" stroke="#000" stroke-width="1.6"/>
<circle cx="371.3" cy="1414.6" r="10.9" fill="#000" stroke="#000" stroke-width="1.6"/>
<circle cx="150.6" cy="1307.0" r="10.9" fill="#f00" stroke="#000" stroke-width="1.6"/>
<circle cx="235.8" cy="1364.3" r="10.9" fill="#f00" stroke="#000" stroke-width="1.6"/>
<circle cx="349.2" cy="1360.4" r="10.9" fill="#f00" stroke="#000" stroke-width="1.6"/>
<circle cx="394.8" cy="1369.0" r="10.9" fill="#f00" stroke="#000" stroke-width="1.6"/>
<circle cx="388.8" cy="1426.3" r="10.9" fill="#f00" stroke="#000" stroke-width="1.6"/>
<circle cx="471.1" cy="1204.5" r="10.9" fill="#f00" stroke="#000" stroke-width="1.6"/>
<circle cx="575.4" cy="1398.2" r="10.9" fill="#f00" stroke="#000" stroke-width="1.6"/>
<circle cx="596.7" cy="1436.0" r="10.9" fill="#f00" stroke="#000" stroke-width="1.6"/>
<circle cx="744.8" cy="1392.4" r="10.9" fill="#f00" stroke="#000" stroke-width="1.6"/>
<path d="M299.7 1226.1L306.7 1224.9L313.8 1223.6L320.9 1222.2L328.0 1220.7L335.1 1219.1L342.2 1217.3L349.3 1215.4L356.4 1213.3L363.4 1211.0L370.5 1208.5L377.6 1205.7L384.7 1202.7L391.8 1199.3L398.9 1195.5L406.0 1191.3L413.1 1186.7L420.2 1181.7L427.2 1176.2L434.3 1170.2L441.4 1163.8L448.5 1156.9L455.6 1149.6L462.7 1142.0L469.8 1134.0L476.9 1125.7L484.0 1117.1L491.0 1108.3L498.1 1099.3L505.2 1090.1L512.3 1080.7L519.4 1071.2L526.5 1061.6L533.6 1051.9L540.7 1042.1L547.7 1032.1L554.8 1022.2L561.9 1012.1L569.0 1002.0L576.1 991.8L583.2 981.6L583.2 1241.8L576.1 1242.8L569.0 1243.8L561.9 1244.8L554.8 1245.9L547.7 1247.1L540.7 1248.3L533.6 1249.7L526.5 1251.1L519.4 1252.6L512.3 1254.3L505.2 1256.1L498.1 1258.0L491.0 1260.2L484.0 1262.5L476.9 1265.1L469.8 1268.0L462.7 1271.1L455.6 1274.6L448.5 1278.5L441.4 1282.8L434.3 1287.5L427.2 1292.7L420.2 1298.4L413.1 1304.5L406.0 1311.0L398.9 1318.0L391.8 1325.4L384.7 1333.2L377.6 1341.2L370.5 1349.6L363.4 1358.2L356.4 1367.1L349.3 1376.2L342.2 1385.4L335.1 1394.8L328.0 1404.4L320.9 1414.0L313.8 1423.8L306.7 1433.7L299.7 1443.6Z" fill="#d3d3d3" fill-opacity="0.4"/>
<line x1="299.7" y1="1334.8" x2="583.2" y2="1111.7" stroke="#000" stroke-width="6.5"/>
<path d="M151.2 1221.7L166.0 1227.5L180.9 1233.2L195.7 1238.8L210.6 1244.4L225.4 1249.8L240.3 1255.2L255.1 1260.4L270.0 1265.5L284.8 1270.4L299.7 1275.1L314.5 1279.7L329.3 1284.0L344.2 1288.1L359.0 1291.9L373.9 1295.4L388.7 1298.5L403.6 1301.3L418.4 1303.7L433.3 1305.7L448.1 1307.3L462.9 1308.5L477.8 1309.3L492.6 1309.8L507.5 1309.9L522.3 1309.7L537.2 1309.2L552.0 1308.4L566.9 1307.5L581.7 1306.3L596.5 1304.9L611.4 1303.4L626.2 1301.7L641.1 1299.9L655.9 1298.0L670.8 1296.0L685.6 1293.9L700.5 1291.8L715.3 1289.5L730.2 1287.2L745.0 1284.9L745.0 1512.9L730.2 1507.0L715.3 1501.2L700.5 1495.5L685.6 1489.8L670.8 1484.2L655.9 1478.7L641.1 1473.2L626.2 1467.9L611.4 1462.7L596.5 1457.7L581.7 1452.8L566.9 1448.1L552.0 1443.5L537.2 1439.3L522.3 1435.3L507.5 1431.5L492.6 1428.1L477.8 1425.0L462.9 1422.3L448.1 1420.0L433.3 1418.1L418.4 1416.6L403.6 1415.4L388.7 1414.7L373.9 1414.3L359.0 1414.3L344.2 1414.5L329.3 1415.1L314.5 1415.9L299.7 1416.9L284.8 1418.1L270.0 1419.5L255.1 1421.1L240.3 1422.8L225.4 1424.6L210.6 1426.5L195.7 1428.5L180.9 1430.6L166.0 1432.8L151.2 1435.0Z" fill="#d3d3d3" fill-opacity="0.4"/>
<line x1="151.2" y1="1328.4" x2="745.0" y2="1398.9" stroke="#f00" stroke-width="6.5"/>
<line x1="121.6" y1="953.6" x2="121.6" y2="1541.1" stroke="#000" stroke-width="3.2"/>
<line x1="121.6" y1="1541.1" x2="774.7" y2="1541.1" stroke="#000" stroke-width="3.2"/>
<line x1="112.0" y1="1063.9" x2="121.6" y2="1063.9" stroke="#000" stroke-width="3.2"/>
<text x="105.7" y="1077.0" text-anchor="end" font-size="36.4" fill="#000">1.0</text>
<line x1="112.0" y1="1197.5" x2="121.6" y2="1197.5" stroke="#000" stroke-width="3.2"/>
<text x="105.7" y="1210.6" text-anchor="end" font-size="36.4" fill="#000">0.5</text>
<line x1="112.0" y1="1331.2" x2="121.6" y2="1331.2" stroke="#000" stroke-width="3.2"/>
<text x="105.7" y="1344.3" text-anchor="end" font-size="36.4" fill="#000">0.0</text>
<line x1="112.0" y1="1464.9" x2="121.6" y2="1464.9" stroke="#000" stroke-width="3.2"/>
<text x="105.7" y="1478.0" text-anchor="end" font-size="36.4" fill="#000">-0.5</text>
<line x1="151.2" y1="1541.1" x2="151.2" y2="1550.7" stroke="#000" stroke-width="3.2"/>
<text x="151.7" y="1583.7" text-anchor="middle" font-size="36.4" fill="#000">-1.0</text>
<line x1="299.7" y1="1541.1" x2="299.7" y2="1550.7" stroke="#000" stroke-width="3.2"/>
<text x="300.2" y="1583.7" text-anchor="middle" font-size="36.4" fill="#000">-0.5</text>
<line x1="448.1" y1="1541.1" x2="448.1" y2="1550.7" stroke="#000" stroke-width="3.2"/>
<text x="448.6" y="1583.7" text-anchor="middle" font-size="36.4" fill="#000">0.0</text>
<line x1="596.5" y1="1541.1" x2="596.5" y2="1550.7" stroke="#000" stroke-width="3.2"/>
<text x="597.0" y="1583.7" text-anchor="middle" font-size="36.4" fill="#000">0.5</text>
<line x1="745.0" y1="1541.1" x2="745.0" y2="1550.7" stroke="#000" stroke-width="3.2"/>
<text x="745.5" y="1583.7" text-anchor="middle" font-size="36.4" fill="#000">1.0</text>
<text x="448.2" y="1625.7" text-anchor="middle" font-size="36.3" fill="#000">DR at last encoding episode</text>
<text transform="translate(25.7 1245.0) rotate(-90)" text-anchor="middle" font-size="36.5" fill="#000">DR at test</text>
<text y="978.4" font-size="33" fill="#000"><tspan x="149.5" font-style="italic">rho </tspan><tspan x="202.4">= </tspan><tspan x="231.35">0.75</tspan><tspan x="296.6">, </tspan><tspan x="315.45" font-style="italic">p </tspan><tspan x="342.5">= </tspan><tspan x="371.5" font-weight="bold" font-size="31.8">0.021</tspan></text>
<text y="1021.2" font-size="33" fill="#e31318"><tspan x="148.7" font-style="italic">rho </tspan><tspan x="202.4">= </tspan><tspan x="231.6" font-size="35.5">−</tspan><tspan x="259.2">0.53</tspan><tspan x="324.6">, </tspan><tspan x="342.35" font-style="italic">p </tspan><tspan x="370.0">= </tspan><tspan x="398.45">0.15</tspan></text>
<text x="233.5" y="886.9" font-size="36.1" fill="#000">InfoLoad</text>
<circle cx="418.1" cy="873.2" r="10.9" fill="#000" stroke="#000" stroke-width="1.6"/>
<rect x="392.1" y="847.2" width="52" height="52" fill="#d3d3d3" fill-opacity="0.4"/>
<line x1="397.3" y1="873.2" x2="438.9" y2="873.2" stroke="#000" stroke-width="6.5"/>
<text x="462.9" y="884.0" font-size="28.6" fill="#000">High</text>
<circle cx="566.3" cy="873.2" r="10.9" fill="#f00" stroke="#000" stroke-width="1.6"/>
<rect x="540.3" y="847.2" width="52" height="52" fill="#d3d3d3" fill-opacity="0.4"/>
<line x1="545.5" y1="873.2" x2="587.1" y2="873.2" stroke="#f00" stroke-width="6.5"/>
<text x="611.1" y="884.0" font-size="28.6" fill="#000">Low</text>
<text x="6.2" y="869.8" font-size="32.6" font-weight="bold" fill="#000">C</text>
</g>
</svg></body></html>
